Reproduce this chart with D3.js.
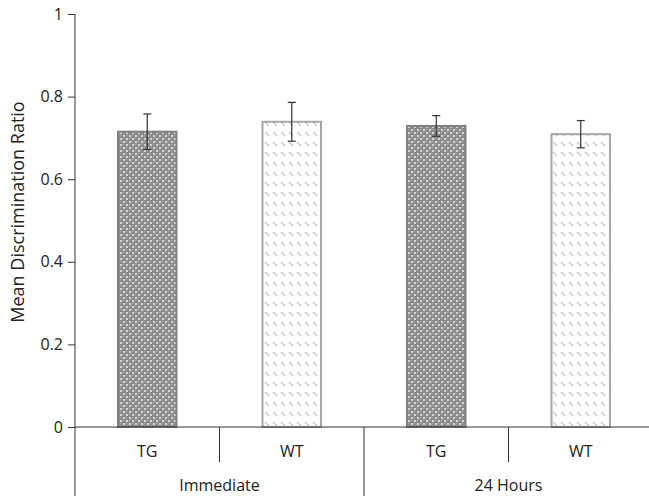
<!DOCTYPE html>
<html><head><meta charset="utf-8">
<script src="https://cdn.jsdelivr.net/npm/d3@7"></script>
<style>body{margin:0;background:#fff}svg{display:block}text{font-family:"Open Sans","Noto Sans",sans-serif;fill:#222}</style>
</head><body><svg id="c" width="649" height="496"></svg>
<script>
const groups = ["Immediate", "24 Hours"];
const genotypes = ["TG", "WT"];
const means = [0.715, 0.739, 0.729, 0.709];
const errors = [0.043, 0.047, 0.025, 0.033];
const yTicks = [0, 0.2, 0.4, 0.6, 0.8, 1];

const svg = d3.select("#c");
const mLeft = 75, mRight = 653, mTop = 14, mBase = 427;
const y = d3.scaleLinear().domain([0, 1]).range([mBase, mTop]);
const cats = [];
groups.forEach(g => genotypes.forEach(t => cats.push(g + "|" + t)));
const x = d3.scaleBand().domain(cats).range([mLeft, mRight]).paddingInner(0).paddingOuter(0);
const xg = d3.scaleBand().domain(groups).range([mLeft, mRight]);

const defs = svg.append("defs");
const p1 = defs.append("pattern").attr("id", "tg").attr("patternUnits", "userSpaceOnUse").attr("width", 6).attr("height", 6);
p1.append("rect").attr("width", 6).attr("height", 6).attr("fill", "#8c8c8c");
p1.append("rect").attr("x", 0).attr("y", 0).attr("width", 2).attr("height", 2).attr("fill", "#d4d4d4");
p1.append("rect").attr("x", 3).attr("y", 3).attr("width", 2).attr("height", 2).attr("fill", "#d4d4d4");
p1.append("rect").attr("x", 3).attr("y", 0).attr("width", 1).attr("height", 1).attr("fill", "#b0b0b0");
p1.append("rect").attr("x", 0).attr("y", 3).attr("width", 1).attr("height", 1).attr("fill", "#b0b0b0");
const p2 = defs.append("pattern").attr("id", "wt").attr("patternUnits", "userSpaceOnUse").attr("width", 8).attr("height", 10);
p2.append("rect").attr("width", 8).attr("height", 10).attr("fill", "#ffffff");
p2.append("line").attr("x1", 1).attr("y1", 2).attr("x2", 5).attr("y2", 6).attr("stroke", "#c8c8c8").attr("stroke-width", 1.2);

// bars
const data = cats.map((c, i) => ({c, t: c.split("|")[1], v: means[i], e: errors[i]}));
const bw = x.bandwidth() * 0.405;
svg.selectAll("rect.bar").data(data).join("rect").attr("class", "bar")
  .attr("x", d => x(d.c) + x.bandwidth() / 2 - bw / 2)
  .attr("y", d => y(d.v))
  .attr("width", bw)
  .attr("height", d => y(0) - y(d.v))
  .attr("fill", d => d.t === "TG" ? "url(#tg)" : "url(#wt)")
  .attr("stroke", d => d.t === "TG" ? "#808080" : "#a6a6a6")
  .attr("stroke-width", 2);

// error bars
const eg = svg.selectAll("g.err").data(data).join("g").attr("class", "err")
  .attr("stroke", "#333").attr("stroke-width", 1.2);
eg.append("line").attr("x1", d => x(d.c) + x.bandwidth() / 2).attr("x2", d => x(d.c) + x.bandwidth() / 2)
  .attr("y1", d => y(d.v + d.e)).attr("y2", d => y(d.v - d.e));
eg.append("line").attr("x1", d => x(d.c) + x.bandwidth() / 2 - 4).attr("x2", d => x(d.c) + x.bandwidth() / 2 + 4)
  .attr("y1", d => y(d.v + d.e)).attr("y2", d => y(d.v + d.e));
eg.append("line").attr("x1", d => x(d.c) + x.bandwidth() / 2 - 4).attr("x2", d => x(d.c) + x.bandwidth() / 2 + 4)
  .attr("y1", d => y(d.v - d.e)).attr("y2", d => y(d.v - d.e));

// y axis
const ya = svg.append("g").attr("transform", `translate(${mLeft},0)`)
  .call(d3.axisLeft(y).tickValues(yTicks).tickFormat(d3.format("~g")).tickSize(7).tickSizeOuter(0));
ya.select(".domain").attr("stroke", "#333").attr("d", `M0,${mTop}V496`);
ya.selectAll(".tick line").attr("stroke", "#333");
ya.selectAll(".tick text").attr("font-size", 16).attr("x", -12).style("font-family", '"Open Sans",sans-serif').attr("fill", "#222");

// x axis line
svg.append("line").attr("x1", mLeft).attr("x2", mRight).attr("y1", mBase).attr("y2", mBase).attr("stroke", "#333").attr("stroke-width", 1);
// dividers
cats.forEach((c, i) => {
  if (i === 0) return;
  const xx = x(c);
  const long = c.split("|")[1] === genotypes[0];
  svg.append("line").attr("x1", xx).attr("x2", xx).attr("y1", mBase).attr("y2", long ? 496 : 462)
    .attr("stroke", "#333").attr("stroke-width", 1);
});
svg.selectAll("text.gt").data(data).join("text").attr("class", "gt")
  .attr("x", d => x(d.c) + x.bandwidth() / 2).attr("y", 457).attr("text-anchor", "middle")
  .attr("font-size", 16).text(d => d.t);
svg.selectAll("text.grp").data(groups).join("text").attr("class", "grp")
  .attr("x", d => xg(d) + xg.bandwidth() / 2).attr("y", 491).attr("text-anchor", "middle")
  .attr("font-size", 16).text(d => d);

svg.append("text").attr("transform", "translate(24,212) rotate(-90)").attr("text-anchor", "middle")
  .attr("font-size", 18).text("Mean Discrimination Ratio");
</script></body></html>
